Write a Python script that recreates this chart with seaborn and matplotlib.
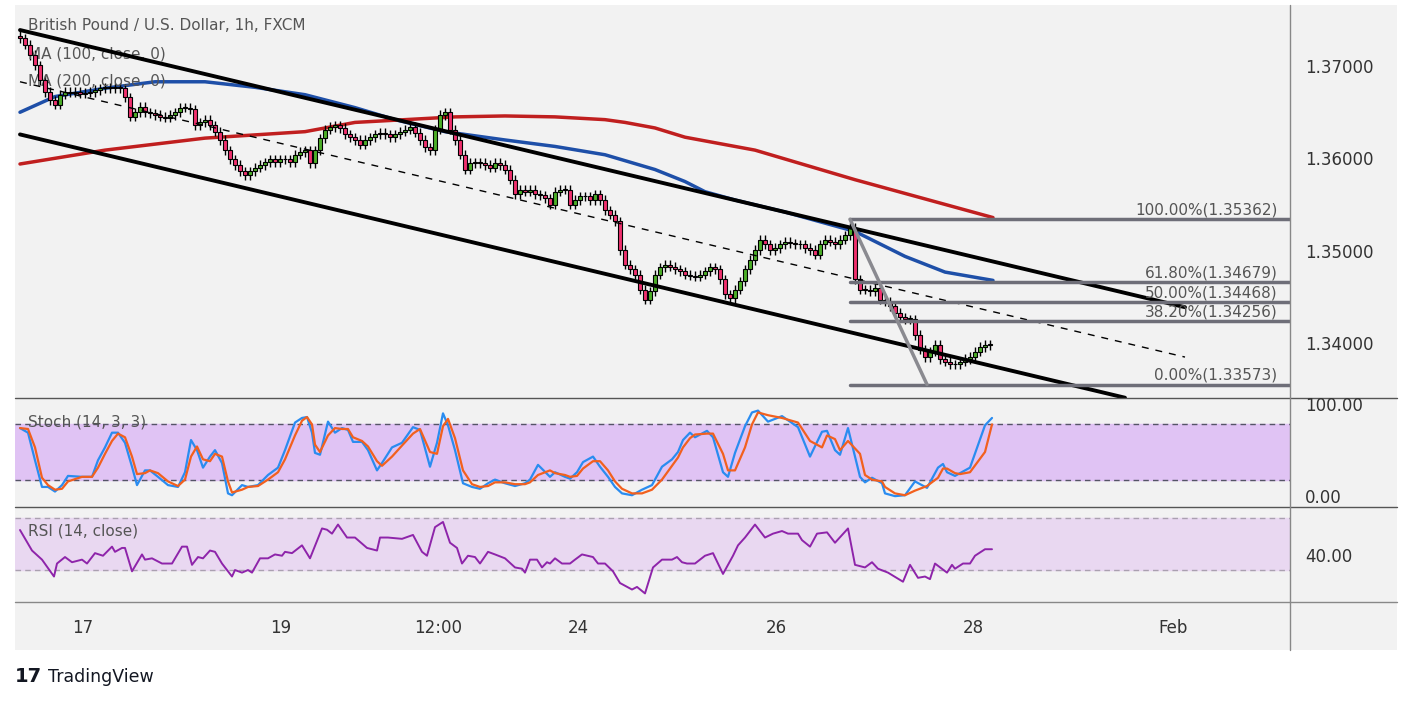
import numpy as np
import pandas as pd
import seaborn as sns
import matplotlib.pyplot as plt

# hourly-ish closes, one bar per slot
closes = [1.3732, 1.3725, 1.3714, 1.3703, 1.3687, 1.3674, 1.3665, 1.3660, 1.3671, 1.3674,
          1.3673, 1.3674, 1.3672, 1.3673, 1.3674, 1.3676, 1.3678, 1.3679, 1.3678, 1.3679,
          1.3678, 1.3668, 1.3647, 1.3652, 1.3658, 1.3652, 1.3651, 1.3649, 1.3647, 1.3646,
          1.3649, 1.3652, 1.3657, 1.3657, 1.3655, 1.3638, 1.3641, 1.3644, 1.3638, 1.3631,
          1.3622, 1.3611, 1.3601, 1.3595, 1.3588, 1.3584, 1.3588, 1.3592, 1.3595, 1.3598,
          1.3601, 1.3598, 1.3601, 1.3601, 1.3598, 1.3606, 1.3609, 1.3611, 1.3597, 1.3611,
          1.3624, 1.3633, 1.3636, 1.3638, 1.3635, 1.3628, 1.3625, 1.3622, 1.3617, 1.3622,
          1.3625, 1.3628, 1.3630, 1.3628, 1.3625, 1.3628, 1.3631, 1.3633, 1.3636, 1.3630,
          1.3622, 1.3614, 1.3611, 1.3633, 1.3649, 1.3652, 1.3633, 1.3622, 1.3606, 1.3590,
          1.3597, 1.3598, 1.3597, 1.3595, 1.3592, 1.3597, 1.3595, 1.3590, 1.3579, 1.3563,
          1.3568, 1.3566, 1.3568, 1.3563, 1.3562, 1.3559, 1.3552, 1.3566, 1.3568, 1.3568,
          1.3552, 1.3557, 1.3561, 1.3561, 1.3557, 1.3563, 1.3557, 1.3546, 1.3541, 1.3534,
          1.3503, 1.3487, 1.3482, 1.3476, 1.3460, 1.3449, 1.3458, 1.3476, 1.3484, 1.3487,
          1.3485, 1.3482, 1.3480, 1.3476, 1.3475, 1.3474, 1.3476, 1.3480, 1.3484, 1.3482,
          1.3471, 1.3455, 1.3451, 1.3460, 1.3469, 1.3482, 1.3492, 1.3503, 1.3514, 1.3509,
          1.3503, 1.3505, 1.3509, 1.3512, 1.3510, 1.3509, 1.3509, 1.3505, 1.3503, 1.3498,
          1.3509, 1.3514, 1.3512, 1.3509, 1.3514, 1.3519, 1.3527, 1.3471, 1.3460, 1.3460,
          1.3458, 1.3462, 1.3449, 1.3447, 1.3442, 1.3435, 1.3430, 1.3428, 1.3428, 1.3411,
          1.3395, 1.3387, 1.3393, 1.3400, 1.3385, 1.3382, 1.3379, 1.3379, 1.3382, 1.3385,
          1.3387, 1.3393, 1.3398, 1.3400, 1.3401]

ma100_t = [0, 7, 17, 27, 37, 47, 57, 67, 75, 85, 97, 107, 117, 127, 133, 137, 143, 153, 167, 177, 185, 194.6]
ma100 = [1.3652, 1.3669, 1.3678, 1.3685, 1.3685, 1.3679, 1.3671, 1.3657, 1.3644, 1.3631, 1.3622,
         1.3615, 1.3606, 1.3590, 1.3577, 1.3566, 1.3557, 1.3544, 1.3523, 1.3496, 1.3479, 1.3470]
ma200_t = [0, 17, 37, 57, 67, 77, 87, 97, 107, 117, 121, 127, 133, 147, 167, 194.6]
ma200 = [1.3596, 1.3611, 1.3624, 1.3631, 1.3641, 1.3644, 1.3647, 1.3648, 1.3647, 1.3644, 1.3641,
         1.3635, 1.3625, 1.3611, 1.3579, 1.3538]

stoch_t = [0, 1.6, 3, 4.4, 5.6, 7, 8.4, 9.6, 12.4, 14.4, 15.6, 17, 18.4, 19.6, 21, 22.4, 23.4, 25, 26, 27.6,
           29.6, 31.6, 33, 34.2, 35.4, 36.6, 38, 39, 40.4, 41.6, 42.4, 44.4, 45.6, 47.6, 49.6, 51.6, 53, 55,
           56.4, 57.4, 58.4, 59, 60, 61.6, 63, 64.4, 65.6, 66.6, 68.4, 69.6, 71.4, 72.4, 74.4, 76.4, 78.6, 80,
           82, 83.4, 84.6, 85.6, 87, 88.6, 90.4, 92, 93.6, 95,
           97, 99, 101, 102, 103.6, 106, 107, 109, 110, 111.4, 112.6, 114.6, 116, 117.6, 119, 120.4, 122.4,
           124.4, 126.4, 128.4, 130.4, 131.6, 132.6, 134, 135, 137.4, 138.6, 140.6, 141.6, 143, 145, 146.4,
           147.6, 149.6, 152.4, 155.6, 158, 160.4, 161.4, 163, 164, 165.6, 168, 169, 170.4, 172.4, 173, 175,
           177, 179, 181.4, 183.6, 184.6, 185.4, 187, 188, 190, 193, 194.4]
stoch_k = [76, 71, 41, 12, 12, 7, 14, 24, 23, 23, 41, 55, 71, 71, 60, 34, 14, 30, 30, 23,
           14, 12, 28, 63, 52, 33, 45, 52, 38, 5, 3, 14, 12, 14, 25, 33, 52, 82, 87, 88,
           71, 49, 47, 83, 71, 76, 74, 61, 61, 52, 30, 38, 55, 60, 77, 74, 34, 60, 92, 79,
           52, 16, 12, 10, 16, 20,
           16, 13, 16, 20, 36, 23, 28, 23, 21, 28, 39, 45, 34, 23, 12, 5, 3, 9, 14, 34,
           42, 50, 63, 71, 66, 73, 66, 28, 23, 49, 78, 93, 95, 83, 89, 77, 45, 72, 73, 52,
           47, 76, 23, 17, 22, 16, 5, 2, 3, 18, 11, 33, 37, 28, 24, 27, 33, 79, 87]
stoch_d = [76, 75, 55, 22, 14, 9, 10, 18, 23, 23, 33, 48, 62, 70, 66, 45, 26, 27, 30, 27,
           18, 13, 20, 45, 56, 42, 40, 48, 45, 18, 6, 9, 12, 13, 20, 28, 42, 68, 84, 88,
           80, 58, 50, 68, 76, 75, 75, 66, 62, 56, 40, 35, 45, 57, 70, 75, 50, 48, 78, 86,
           65, 30, 15, 12, 13, 17,
           17, 15, 15, 17, 25, 30, 27, 25, 23, 24, 32, 40, 40, 30, 18, 10, 5, 5, 9, 20,
           35, 44, 55, 65, 69, 70, 70, 48, 30, 30, 55, 80, 93, 90, 87, 82, 62, 55, 68, 64,
           52, 62, 48, 25, 20, 18, 12, 5, 3, 8, 13, 22, 32, 32, 27, 26, 28, 50, 80]

rsi_t = [0, 2.4, 4.4, 6.8, 7.4, 9, 10.4, 12.4, 13.4, 15, 16.6, 18.4, 19, 20.4, 21, 22.4, 24.4, 25, 26.4, 28.4,
         30.4, 32.4, 33.4, 34.4, 35.6, 36.6, 38, 39, 40.4, 42.4, 43, 44.4, 45.6, 46.4, 48, 49.6, 51, 52.4, 53,
         54.4, 56.4, 58, 60.4, 61.4, 62.4, 63.6, 65.4, 67, 69.4, 71.4, 72, 73.6, 76.4, 78.6, 80.4, 81.4, 83,
         84.6, 86, 87.4, 88.4, 89.6, 91, 92, 93.6, 95,
         97, 99, 100.4, 101, 102, 103.4, 104.4, 105.4, 106, 107, 108.4, 110, 111, 112.4, 114.6, 115.6, 117,
         118.6, 120, 122.4, 123.4, 125, 126.6, 128.4, 130.4, 131.4, 132.4, 133.4, 135, 137, 138.6, 140.6,
         142.6, 143.6, 145, 147, 149, 150.6, 152.4, 153.6, 155.6, 156.4, 158, 159.4, 161.4, 163, 165.6, 167,
         169, 170.4, 171.6, 173.6, 176.6, 178, 179.6, 181, 182, 183, 185.4, 186.4, 187, 188.6, 190, 191, 193, 194.4]
rsi = [60.8, 45, 38, 25, 35, 40, 36, 38, 35, 43, 41, 48, 44, 47, 47, 29, 42, 38, 39, 35,
       35, 48, 48, 34, 40, 39, 45, 44, 35, 25, 30, 28, 30, 28, 39, 39, 42, 41, 44, 43,
       49, 39, 62, 61, 58, 65, 55, 55, 47, 45, 55, 55, 54, 57, 44, 41, 63, 67, 51, 47,
       35, 41, 40, 35, 44, 42,
       39, 32, 31, 28, 38, 38, 32, 36, 35, 39, 35, 35, 38, 42, 40, 35, 35, 29, 20, 15,
       17, 12, 32, 38, 38, 40, 36, 35, 35, 41, 43, 27, 41, 49, 55, 65, 55, 58, 60, 58,
       58, 53, 48, 58, 59, 51, 62, 34, 32, 36, 31, 28, 21, 34, 24, 25, 23, 35, 28, 34,
       31, 35, 35, 41, 46, 46]

# drawn channel (start / end anchors)
channel_upper = [(0, 1.3741), (233, 1.3441)]
channel_mid = [(0, 1.3685), (233, 1.3387)]
channel_lower = [(0, 1.3628), (221, 1.3343)]

fib_levels = [1.0, 0.618, 0.5, 0.382, 0.0]
fib_high, fib_low = 1.35362, 1.33573
fib_start, fib_low_t = 166, 181.4

tick_pos = [12.6, 52.2, 83.6, 111.6, 151.2, 190.6, 230.6]
tick_labels = ["17", "19", "12:00", "24", "26", "28", "Feb"]
price_ticks = [1.37, 1.36, 1.35, 1.34]

W, H = 1413, 703
BG = "#f2f2f2"
TXT = "#555555"

sns.set_style("white")
plt.rcParams["font.family"] = ["DejaVu Sans"]
fig = plt.figure(figsize=(W / 100, H / 100), dpi=100, facecolor="white")


def px_axes(x0, y0, x1, y1):
    return fig.add_axes([x0 / W, 1 - y1 / H, (x1 - x0) / W, (y1 - y0) / H])


bg = px_axes(15, 5, 1397, 650)
bg.set_facecolor(BG)
bg.set_xticks([])
bg.set_yticks([])
for s in bg.spines.values():
    s.set_visible(False)

XMIN, XMAX = -1, 254
ax = px_axes(15, 5, 1290, 398)
ax_s = px_axes(15, 398, 1290, 507)
ax_r = px_axes(15, 507, 1290, 602)
for a in (ax, ax_s, ax_r):
    a.set_facecolor("none")
    a.set_xlim(XMIN, XMAX)
    for s in a.spines.values():
        s.set_visible(False)
    a.set_yticks([])
    a.set_xticks([])

# candles
df = pd.DataFrame({"close": closes})
df["t"] = np.arange(len(df))
df["open"] = df["close"].shift(1).fillna(df["close"].iloc[0] + 0.0003)
wick = 0.0005
df["high"] = df[["open", "close"]].max(axis=1) + wick
df["low"] = df[["open", "close"]].min(axis=1) - wick
up = df["close"] >= df["open"]
ax.vlines(df["t"], df["low"], df["high"], color="black", lw=1, zorder=3)
body = (df["close"] - df["open"]).abs().clip(lower=0.00008)
ax.bar(df["t"], body, bottom=df[["open", "close"]].min(axis=1), width=0.62,
       color=np.where(up, "#4caf28", "#f0306e"), edgecolor="black", lw=0.8, zorder=4)

sns.lineplot(x=ma100_t, y=ma100, ax=ax, color="#1e4fa8", lw=2.5, zorder=2)
sns.lineplot(x=ma200_t, y=ma200, ax=ax, color="#c01f1f", lw=2.5, zorder=2)

for line, ls in ((channel_upper, "-"), (channel_lower, "-"), (channel_mid, (0, (5, 5)))):
    (t0, p0), (t1, p1) = line
    ax.plot([t0, t1], [p0, p1], color="black", lw=2.8 if ls == "-" else 1.0, ls=ls, zorder=5)

for lv in fib_levels:
    p = fib_low + lv * (fib_high - fib_low)
    ax.plot([fib_start, XMAX], [p, p], color="#6e6e78", lw=2.5, zorder=5)
    ax.text(XMAX - 2.5, p + 0.0002, f"{lv * 100:.2f}%({p:.5f})", ha="right", va="bottom",
            fontsize=11, color=TXT, zorder=6)
ax.plot([fib_start, fib_low_t], [fib_high, fib_low], color="#8a8a90", lw=2.5, zorder=5)

ax.set_ylim(1.33427, 1.37681)
ax.text(1.5, 1.37454, "British Pound / U.S. Dollar, 1h, FXCM", fontsize=11, color=TXT, va="center")
ax.text(1.5, 1.37151, "MA (100, close, 0)", fontsize=11, color=TXT, va="center")
ax.text(1.5, 1.36858, "MA (200, close, 0)", fontsize=11, color=TXT, va="center")

# stochastic
ax_s.set_ylim(-9.8, 108.7)
ax_s.axhspan(20, 80, color="#e0c3f4", zorder=0)
for lv in (20, 80):
    ax_s.axhline(lv, color="#555566", lw=1, ls=(0, (4, 3)))
sns.lineplot(x=stoch_t, y=stoch_k, ax=ax_s, color="#2a8cf0", lw=1.6)
sns.lineplot(x=stoch_t, y=stoch_d, ax=ax_s, color="#f2601e", lw=1.6)
ax_s.text(1.5, 83, "Stoch (14, 3, 3)", fontsize=11, color=TXT, va="center")

# rsi
ax_r.set_ylim(5.4, 78.5)
ax_r.axhspan(30, 70, color="#e9d8f1", zorder=0)
for lv in (30, 70):
    ax_r.axhline(lv, color="#aaa0b0", lw=1, ls=(0, (4, 3)))
sns.lineplot(x=rsi_t, y=rsi, ax=ax_r, color="#8e24aa", lw=1.4)
ax_r.text(1.5, 60, "RSI (14, close)", fontsize=11, color=TXT, va="center")
ax_r.set_xticks(tick_pos)
ax_r.set_xticklabels(tick_labels, fontsize=12, color="#333333")
ax_r.tick_params(axis="x", length=0, pad=12)

# separators
for y in (398, 507):
    fig.add_artist(plt.Line2D([15 / W, 1397 / W], [1 - y / H, 1 - y / H], color="#555555", lw=1))
fig.add_artist(plt.Line2D([15 / W, 1397 / W], [1 - 602 / H, 1 - 602 / H], color="#888888", lw=1))
fig.add_artist(plt.Line2D([1290 / W, 1290 / W], [1 - 650 / H, 1 - 5 / H], color="#888888", lw=1))

# right scale labels
for p in price_ticks:
    y = 5 + (1.37681 - p) / (1.37681 - 1.33427) * 393
    fig.text(1305 / W, 1 - y / H, f"{p:.5f}", fontsize=12, color="#333333", va="center")
fig.text(1305 / W, 1 - 406 / H, "100.00", fontsize=12, color="#333333", va="center")
fig.text(1305 / W, 1 - 498 / H, "0.00", fontsize=12, color="#333333", va="center")
fig.text(1305 / W, 1 - 557 / H, "40.00", fontsize=12, color="#333333", va="center")

fig.text(15 / W, 1 - 677 / H, "17", fontsize=14, fontweight="bold", color="#131722", va="center")
fig.text(48 / W, 1 - 677 / H, "TradingView", fontsize=12.5, color="#131722", va="center")

fig.savefig("out.png", dpi=100, facecolor="white")
